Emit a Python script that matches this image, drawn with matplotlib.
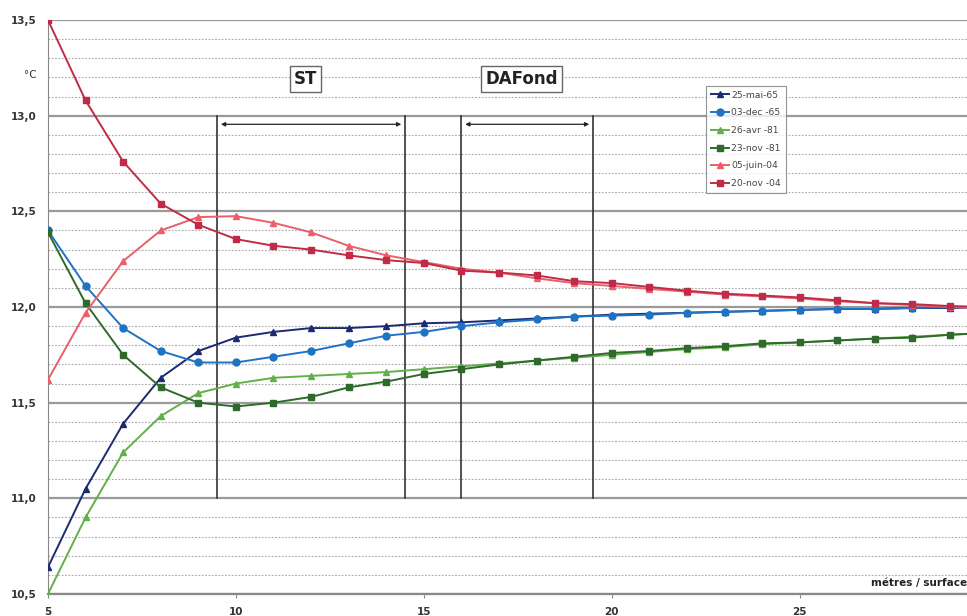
import numpy as np
import matplotlib.pyplot as plt
from matplotlib.ticker import MultipleLocator, FuncFormatter

# profondeur (m) et temperatures (°C)
depth = list(range(5, 31))

mai65 = [10.64, 11.05, 11.39, 11.63, 11.77, 11.84, 11.87, 11.89, 11.89, 11.90, 11.915,
         11.92, 11.93, 11.94, 11.95, 11.96, 11.965, 11.97, 11.975, 11.98, 11.985,
         11.99, 11.99, 11.995, 11.995, 12.0]
dec65 = [12.40, 12.11, 11.89, 11.77, 11.71, 11.71, 11.74, 11.77, 11.81, 11.85, 11.87,
         11.90, 11.92, 11.935, 11.95, 11.955, 11.96, 11.97, 11.975, 11.98, 11.985,
         11.99, 11.99, 11.995, 12.0, 12.0]
avr81 = [10.50, 10.90, 11.24, 11.43, 11.55, 11.60, 11.63, 11.64, 11.65, 11.66, 11.675,
         11.69, 11.705, 11.72, 11.735, 11.75, 11.765, 11.78, 11.79, 11.805, 11.815,
         11.825, 11.835, 11.845, 11.855, 11.865]
nov81 = [12.39, 12.02, 11.75, 11.58, 11.50, 11.48, 11.50, 11.53, 11.58, 11.61, 11.65,
         11.675, 11.70, 11.72, 11.74, 11.76, 11.77, 11.785, 11.795, 11.81, 11.815,
         11.825, 11.835, 11.84, 11.855, 11.865]
juin04 = [11.62, 11.97, 12.24, 12.40, 12.47, 12.475, 12.44, 12.39, 12.32, 12.27, 12.235,
          12.20, 12.18, 12.15, 12.125, 12.11, 12.095, 12.08, 12.065, 12.055, 12.045,
          12.03, 12.02, 12.01, 12.0, 11.995]
nov04 = [13.50, 13.08, 12.76, 12.54, 12.43, 12.355, 12.32, 12.30, 12.27, 12.245, 12.23,
         12.19, 12.18, 12.165, 12.135, 12.125, 12.105, 12.085, 12.07, 12.06, 12.05,
         12.035, 12.02, 12.015, 12.005, 12.0]

labels = ['25-mai-65', '03-dec -65', '26-avr -81', '23-nov -81', '05-juin-04', '20-nov -04']
series = [mai65, dec65, avr81, nov81, juin04, nov04]
colors = ['#1c2a72', '#1f73c4', '#62b04a', '#2f6a2c', '#ea5f6a', '#c02c48']
markers = ['^', 'o', '^', 's', '^', 's']
msizes = [4, 5, 4, 5, 4, 5]

# zones ST et DAFond (limites en m)
zones = [('ST', 9.5, 14.5, 11.85), ('DAFond', 16.0, 19.5, 17.6)]

fig = plt.figure(figsize=(9.67, 6.16), dpi=100)
ax = fig.add_axes([0.0496, 0.0357, 0.9504, 0.9318])

for vals, lab, c, m, ms in zip(series, labels, colors, markers, msizes):
    ax.plot(depth, vals, color=c, marker=m, markersize=ms, lw=1.4, label=lab,
            clip_on=True, zorder=3)

ax.set_xlim(5, 29.45)
ax.set_ylim(10.5, 13.5)

ax.yaxis.set_major_locator(MultipleLocator(0.5))
ax.yaxis.set_minor_locator(MultipleLocator(0.1))
ax.xaxis.set_major_locator(MultipleLocator(5))
ax.yaxis.set_major_formatter(FuncFormatter(lambda v, p: f'{v:.1f}'.replace('.', ',')))

ax.grid(which='major', axis='y', color='#9a9a9a', lw=1.6, zorder=1)
ax.grid(which='minor', axis='y', color='#a8a8a8', lw=0.8, ls=(0, (1.5, 1.5)), zorder=1)

for s in ['top', 'right']:
    ax.spines[s].set_visible(False)
ax.spines['left'].set_color('#888888')
ax.spines['bottom'].set_color('#888888')
ax.spines['bottom'].set_linewidth(1.6)

ax.tick_params(axis='y', which='both', length=0, pad=8, labelsize=7.5, labelcolor='#333333')
ax.tick_params(axis='x', length=3, color='#888888', labelsize=7.5, labelcolor='#333333', pad=6)
for t in ax.get_yticklabels() + ax.get_xticklabels():
    t.set_fontweight('bold')

# zones et fleches
for name, x0, x1, xt in zones:
    for xv in (x0, x1):
        ax.plot([xv, xv], [11.0, 13.0], color='#333333', lw=1.2, zorder=2)
    ax.annotate('', xy=(x0 + 0.1, 12.955), xytext=(x1 - 0.1, 12.955),
                arrowprops=dict(arrowstyle='<|-|>', color='#222222', lw=0.9,
                                mutation_scale=6, shrinkA=0, shrinkB=0))
    ax.text(xt, 13.19, name, ha='center', va='center', fontsize=12, fontweight='bold',
            color='#222222',
            bbox=dict(boxstyle='square,pad=0.25', fc='white', ec='#666666', lw=1))

ax.text(-0.012, 0.905, '°C', transform=ax.transAxes, ha='right', va='center',
        fontsize=7.5, color='#333333')
ax.text(1.0, 0.02, 'métres / surface', transform=ax.transAxes, ha='right', va='center',
        fontsize=7.5, fontweight='bold', color='#222222')

leg = ax.legend(loc='upper left', bbox_to_anchor=(0.711, 0.893), fontsize=6.6,
                frameon=True, fancybox=False, edgecolor='#777777', handlelength=2.0,
                labelspacing=0.95, borderpad=0.5, handletextpad=0.25)
leg.get_frame().set_linewidth(0.8)
for t in leg.get_texts():
    t.set_color('#444444')

fig.savefig('out.png', dpi=100)
